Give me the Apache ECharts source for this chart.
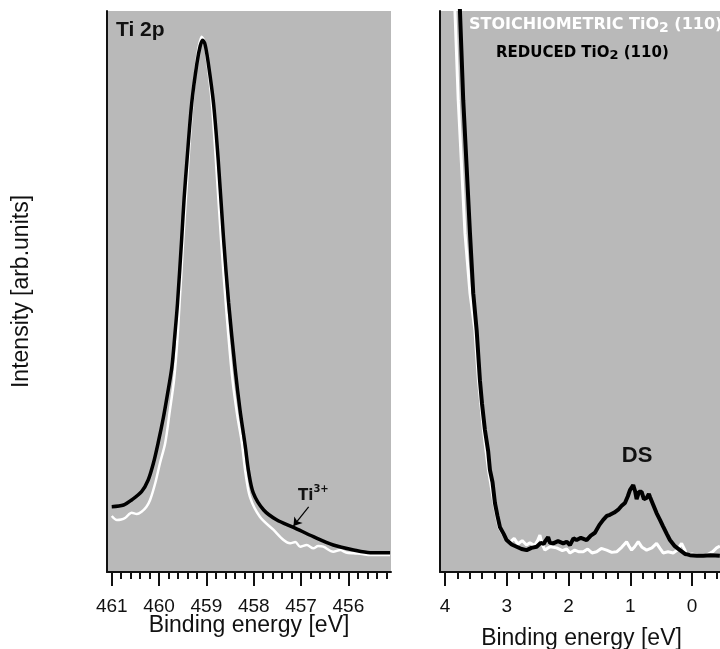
<!DOCTYPE html>
<html><head><meta charset="utf-8">
<script src="https://cdn.jsdelivr.net/npm/echarts@6/dist/echarts.min.js"></script>
<style>html,body{margin:0;padding:0;background:#fff}#c{width:720px;height:649px}</style>
</head><body><div id="c"></div>
<script>
// Ti 2p core level: [binding energy eV, intensity arb.]
const ti2pStoich = [
 [461.0,9.98],[460.89,9.27],[460.80,9.36],[460.72,9.63],[460.64,10.25],[460.58,10.57],[460.47,10.34],[460.37,10.75],
 [460.27,11.59],[460.19,12.83],[460.08,15.86],[459.98,19.43],[459.87,23.0],[459.77,28.9],[459.68,34.5],[459.60,43.1],
 [459.49,59.2],[459.38,73.4],[459.28,85.0],[459.19,92.2],[459.10,95.4],[459.04,94.5],[458.99,91.6],[458.89,84.1],
 [458.80,73.4],[458.69,59.2],[458.58,46.7],[458.46,35.1],[458.35,28.0],[458.25,23.0],[458.18,18.0],[458.08,13.4],
 [457.87,9.86],[457.58,7.49],[457.37,5.70],[457.23,5.12],[457.12,5.35],[457.02,4.51],[456.88,4.81],[456.74,4.22],
 [456.64,4.63],[456.53,4.51],[456.32,3.62],[456.17,3.92],[456.05,3.48],[455.89,3.33],[455.71,3.21],[455.54,3.03],[455.12,3.03]
];
const ti2pReduced = [
 [461.0,11.64],[460.75,11.94],[460.58,12.83],[460.37,14.31],[460.23,16.40],[460.12,19.38],[460.02,23.0],[459.91,27.5],
 [459.82,31.8],[459.73,36.5],[459.67,41.9],[459.61,47.95],[459.52,59.7],[459.47,66.7],[459.41,73.4],[459.31,83.6],
 [459.20,90.7],[459.13,93.8],[459.08,94.8],[459.03,94.1],[458.96,90.7],[458.85,83.6],[458.75,73.4],[458.64,59.7],
 [458.53,47.95],[458.39,36.0],[458.29,28.9],[458.18,22.5],[458.11,18.0],[458.01,14.1],[457.79,11.05],[457.51,9.27],
 [457.16,7.97],[456.74,6.29],[456.32,4.81],[455.89,3.92],[455.54,3.44],[455.12,3.44]
];
// Valence band region
const vbStoich = [
 [3.87,110],[3.838,100],[3.785,84.1],[3.730,72.2],[3.676,60.4],[3.595,49.7],[3.515,43.1],[3.458,34.2],[3.377,25.3],
 [3.296,18.2],[3.207,12.3],[3.126,8.0],[3.029,6.1],[2.95,5.3],[2.88,6.0],[2.82,5.0],[2.75,5.6],[2.68,4.8],[2.625,5.2],
 [2.55,4.7],[2.50,5.6],[2.463,6.6],[2.43,5.0],[2.382,3.9],[2.30,4.5],[2.193,4.3],[2.10,3.8],[2.03,4.1],[1.977,3.4],
 [1.90,3.9],[1.83,3.6],[1.762,3.6],[1.69,4.1],[1.62,3.4],[1.545,3.6],[1.47,4.2],[1.383,3.9],[1.30,3.5],[1.222,3.6],
 [1.14,4.4],[1.060,5.4],[1.02,4.6],[0.979,3.9],[0.93,4.5],[0.872,5.4],[0.81,4.4],[0.736,3.9],[0.65,4.3],[0.575,5.1],
 [0.52,4.2],[0.468,3.4],[0.39,3.6],[0.306,3.4],[0.24,3.9],[0.170,5.1],[0.12,4.0],[0.089,3.0],[0.0,3.2],[-0.1,3.0],
 [-0.235,3.0],[-0.33,3.6],[-0.397,4.3],[-0.45,4.6]
];
const vbReduced = [
 [3.79,110],[3.757,100],[3.704,84.1],[3.649,72.2],[3.595,60.4],[3.542,49.7],[3.487,43.1],[3.434,34.2],[3.40,30.0],
 [3.353,25.3],[3.30,21.5],[3.272,18.2],[3.23,16.0],[3.191,12.3],[3.15,10.0],[3.110,8.0],[3.05,6.8],[3.002,5.7],
 [2.92,4.9],[2.840,4.5],[2.76,4.1],[2.678,3.9],[2.60,4.3],[2.516,4.5],[2.45,5.2],[2.40,5.0],[2.382,5.4],[2.33,6.2],
 [2.30,5.2],[2.248,5.1],[2.17,5.5],[2.086,5.1],[2.03,5.4],[1.977,4.8],[1.92,6.0],[1.869,5.7],[1.80,6.1],[1.707,5.7],
 [1.64,6.5],[1.573,7.0],[1.50,8.4],[1.439,9.3],[1.38,10.0],[1.330,10.2],[1.26,10.6],[1.196,11.1],[1.14,11.8],
 [1.087,12.3],[1.04,13.5],[1.006,14.6],[0.953,15.5],[0.92,14.3],[0.898,13.0],[0.86,14.3],[0.817,14.3],[0.78,13.0],
 [0.736,13.2],[0.70,13.9],[0.683,13.4],[0.63,12.0],[0.575,10.5],[0.52,9.3],[0.468,8.1],[0.41,6.8],[0.359,5.7],
 [0.28,4.6],[0.197,3.9],[0.11,3.2],[0.036,3.0],[-0.08,2.9],[-0.180,2.9],[-0.3,3.0],[-0.449,2.9]
];
// tick positions
const ti2pMajorTicks = [456,457,458,459,460,461];
const ti2pMinorTicks = [455.2,455.4,455.6,455.8,456.2,456.4,456.6,456.8,457.2,457.4,457.6,457.8,458.2,458.4,458.6,458.8,459.2,459.4,459.6,459.8,460.2,460.4,460.6,460.8];
const vbMajorTicks = [0,1,2,3,4];
const vbMinorTicks = [-0.4,-0.2,0.2,0.4,0.6,0.8,1.2,1.4,1.6,1.8,2.2,2.4,2.6,2.8,3.2,3.4,3.6,3.8];
// annotations
const ti3Arrow = [[456.84,11.6],[457.16,8.2]];
const ti3LabelPos = [456.74,13.9];
const dsLabelPos = [0.891,20.7];

const INK = '#111';
const SANS = 'Liberation Sans, Arial, sans-serif';
const VERD = 'DejaVu Sans, Verdana, sans-serif';

function xMain(grid, min, max, ticks, nameGap) {
  return {
    gridIndex: grid, type: 'value', inverse: true, min: min, max: max, position: 'bottom',
    axisLine: {show: true, onZero: false, lineStyle: {color: INK, width: 2}},
    axisTick: {show: true, customValues: ticks, length: 14, lineStyle: {color: INK, width: 2}},
    axisLabel: {show: true, customValues: ticks, margin: 25, fontSize: 19, color: INK, fontFamily: SANS},
    splitLine: {show: false},
    name: 'Binding energy [eV]', nameLocation: 'middle', nameGap: nameGap, nameMoveOverlap: false,
    nameTextStyle: {fontSize: 23, color: INK, fontFamily: SANS}
  };
}
function xMinor(grid, min, max, ticks) {
  return {
    gridIndex: grid, type: 'value', inverse: true, min: min, max: max, position: 'bottom', offset: 0,
    axisLine: {show: false, onZero: false},
    axisTick: {show: true, customValues: ticks, length: 7, lineStyle: {color: INK, width: 2}},
    axisLabel: {show: false}, splitLine: {show: false}
  };
}
function yAx(grid, name) {
  const a = {
    gridIndex: grid, type: 'value', min: 0, max: 100, position: 'left',
    axisLine: {show: true, onZero: false, lineStyle: {color: INK, width: 2}},
    axisTick: {show: false}, axisLabel: {show: false}, splitLine: {show: false}
  };
  if (name) {
    Object.assign(a, {name: name, nameLocation: 'middle', nameRotate: 90, nameGap: 74, nameMoveOverlap: false,
      nameTextStyle: {fontSize: 23, color: INK, fontFamily: SANS}});
  }
  return a;
}
const legendRich = (color, fs) => ({
  m: {fontSize: fs, fontWeight: 'bold', color: color, fontFamily: VERD, lineHeight: 20},
  s: {fontSize: fs - 2, fontWeight: 'bold', color: color, fontFamily: VERD, lineHeight: 14, padding: [6,0,0,0], verticalAlign: 'top'}
});

const chart = echarts.init(document.getElementById('c'), null, {renderer: 'canvas'});
chart.setOption({
  animation: false,
  backgroundColor: '#fff',
  grid: [
    {left: 107, top: 11, width: 284, height: 561, show: true, backgroundColor: '#b9b9b9', borderWidth: 0, outerBoundsMode: 'none'},
    {left: 440, top: 11, width: 283, height: 561, show: true, backgroundColor: '#b9b9b9', borderWidth: 0, outerBoundsMode: 'none'}
  ],
  xAxis: [
    xMain(0, 455.1, 461.1, ti2pMajorTicks, 42),
    xMinor(0, 455.1, 461.1, ti2pMinorTicks),
    xMain(1, -0.5, 4.08, vbMajorTicks, 55),
    xMinor(1, -0.5, 4.08, vbMinorTicks)
  ],
  yAxis: [yAx(0, 'Intensity [arb.units]'), yAx(1, null)],
  title: [
    {text: 'Ti 2p', left: 116, top: 20, padding: 0,
     textStyle: {fontSize: 21, fontWeight: 'bold', color: INK, fontFamily: SANS}},
    {text: '{m|STOICHIOMETRIC TiO}{s|2}{m| (110)}', left: 469, top: 15, padding: 0,
     textStyle: {rich: legendRich('#ffffff', 16)}},
    {text: '{m|REDUCED TiO}{s|2}{m| (110)}', left: 496, top: 43, padding: 0,
     textStyle: {rich: legendRich('#000000', 15)}}
  ],
  series: [
    {type: 'line', name: 'STOICHIOMETRIC TiO2 (110)', xAxisIndex: 0, yAxisIndex: 0, data: ti2pStoich,
     symbol: 'none', smooth: 0.3, silent: true, z: 2, lineStyle: {color: '#ffffff', width: 2.5}},
    {type: 'line', name: 'REDUCED TiO2 (110)', xAxisIndex: 0, yAxisIndex: 0, data: ti2pReduced,
     symbol: 'none', smooth: 0.3, silent: true, z: 3, lineStyle: {color: '#000000', width: 3.5},
     markLine: {silent: true, symbol: ['none', 'arrow'], symbolSize: 8, animation: false,
       lineStyle: {color: '#000', width: 1.2, type: 'solid'}, label: {show: false},
       data: [[{coord: ti3Arrow[0]}, {coord: ti3Arrow[1]}]]},
     markPoint: {silent: true, symbol: 'circle', symbolSize: 1, itemStyle: {color: 'rgba(0,0,0,0)'}, animation: false,
       label: {show: true, position: 'inside', formatter: '{a|Ti}{b|3+}',
         rich: {a: {fontSize: 15, fontWeight: 'bold', color: '#111', fontFamily: VERD, lineHeight: 19, verticalAlign: 'bottom'},
                b: {fontSize: 10, fontWeight: 'bold', color: '#111', fontFamily: VERD, lineHeight: 11, verticalAlign: 'top'}}},
       data: [{coord: ti3LabelPos}]}},
    {type: 'line', name: 'STOICHIOMETRIC TiO2 (110)', xAxisIndex: 2, yAxisIndex: 1, data: vbStoich,
     symbol: 'none', silent: true, z: 2, lineStyle: {color: '#ffffff', width: 3}},
    {type: 'line', name: 'REDUCED TiO2 (110)', xAxisIndex: 2, yAxisIndex: 1, data: vbReduced,
     symbol: 'none', silent: true, z: 3, lineStyle: {color: '#000000', width: 4},
     markPoint: {silent: true, symbol: 'circle', symbolSize: 1, itemStyle: {color: 'rgba(0,0,0,0)'}, animation: false,
       label: {show: true, position: 'inside', formatter: 'DS', fontSize: 22, fontWeight: 'bold', color: '#111', fontFamily: SANS},
       data: [{coord: dsLabelPos}]}}
  ]
});
</script></body></html>
